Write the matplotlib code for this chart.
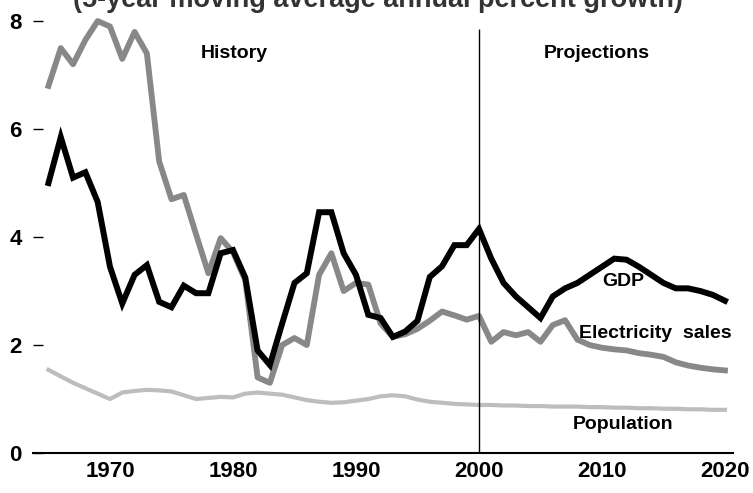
import numpy as np
import matplotlib
matplotlib.use("Agg")
import matplotlib.pyplot as plt

plt.rcParams['font.family'] = ['Liberation Sans', 'DejaVu Sans']

# values, one per year
years = list(range(1965, 2021))

gdp = [5.0, 5.85, 5.1, 5.2, 4.65, 3.45, 2.77, 3.3, 3.48, 2.8,
       2.7, 3.1, 2.96, 2.96, 3.7, 3.76, 3.25, 1.9, 1.63, 2.4,
       3.15, 3.33, 4.46, 4.46, 3.7, 3.3, 2.56, 2.5, 2.15, 2.25,
       2.45, 3.26, 3.46, 3.85, 3.85, 4.15, 3.6, 3.15, 2.9, 2.7,
       2.5, 2.9, 3.05, 3.15, 3.3, 3.45, 3.6, 3.58, 3.45, 3.3,
       3.15, 3.05, 3.05, 3.0, 2.93, 2.82]

elec = [6.8, 7.5, 7.2, 7.65, 8.0, 7.9, 7.3, 7.8, 7.4, 5.4,
        4.7, 4.78, 4.05, 3.33, 3.98, 3.72, 3.2, 1.4, 1.3, 2.0,
        2.13, 2.0, 3.3, 3.7, 3.0, 3.15, 3.12, 2.4, 2.15, 2.2,
        2.3, 2.45, 2.62, 2.55, 2.47, 2.54, 2.06, 2.24, 2.18, 2.24,
        2.06, 2.37, 2.46, 2.1, 2.0, 1.95, 1.92, 1.9, 1.85, 1.82,
        1.78, 1.68, 1.62, 1.58, 1.55, 1.53]

pop = [1.54, 1.42, 1.3, 1.2, 1.1, 1.0, 1.12, 1.15, 1.17, 1.16,
       1.14, 1.07, 1.0, 1.02, 1.04, 1.03, 1.1, 1.12, 1.1, 1.08,
       1.03, 0.98, 0.95, 0.93, 0.94, 0.97, 1.0, 1.05, 1.07, 1.05,
       0.99, 0.95, 0.93, 0.91, 0.9, 0.89, 0.89, 0.88, 0.88, 0.87,
       0.87, 0.86, 0.86, 0.86, 0.85, 0.85, 0.84, 0.84, 0.83, 0.83,
       0.82, 0.82, 0.81, 0.81, 0.8, 0.8]

yticks = [0, 2, 4, 6, 8]
xticks = [1970, 1980, 1990, 2000, 2010, 2020]

fig = plt.figure(figsize=(7.53, 4.93), dpi=100)
ax = fig.add_axes([0.0438, 0.0811, 0.9296, 0.909])

ax.plot(years, pop, color='#bdbdbd', lw=3.0, solid_joinstyle='round')
ax.plot(years, elec, color='#888888', lw=4.2, solid_joinstyle='round')
ax.plot(years, gdp, color='black', lw=4.3, solid_joinstyle='miter')

ax.vlines(2000, 0, 7.85, color='black', lw=1.0)

ax.set_xlim(1963.74, 2020.65)
ax.set_ylim(0, 8.3)

for s in ['top', 'right', 'left']:
    ax.spines[s].set_visible(False)
ax.spines['bottom'].set_linewidth(1.5)

ax.set_yticks(yticks)
ax.set_yticklabels([str(v) for v in yticks], fontsize=16, fontweight='bold')
ax.tick_params(axis='y', direction='in', length=7, width=1.0, pad=8)
ax.set_xticks(xticks)
ax.set_xticklabels([str(v) for v in xticks], fontsize=16, fontweight='bold')
ax.tick_params(axis='x', length=0, pad=6)

ax.text(1980.1, 7.4, 'History', fontsize=14, fontweight='bold', ha='center', va='center')
ax.text(2009.6, 7.4, 'Projections', fontsize=14, fontweight='bold', ha='center', va='center')
ax.text(2011.7, 3.17, 'GDP', fontsize=14, fontweight='bold', ha='center', va='center')
ax.text(2014.3, 2.22, 'Electricity  sales', fontsize=14, fontweight='bold', ha='center', va='center')
ax.text(2011.7, 0.52, 'Population', fontsize=14, fontweight='bold', ha='center', va='center')

fig.text(0.502, 0.986, '(5-year moving average annual percent growth)',
         fontsize=19.5, fontweight='bold', color='#333333', ha='center', va='baseline')

fig.savefig('out.png', dpi=100)
